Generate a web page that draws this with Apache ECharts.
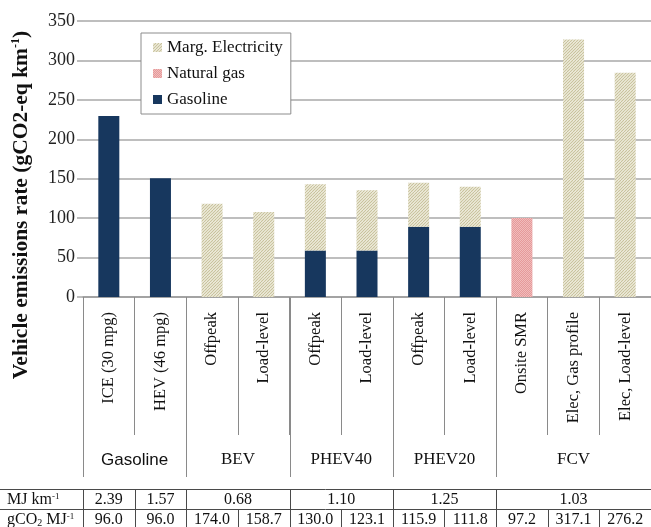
<!DOCTYPE html>
<html>
<head>
<meta charset="utf-8">
<script src="https://cdn.jsdelivr.net/npm/echarts@6/dist/echarts.min.js"></script>
<style>
  html, body { margin: 0; padding: 0; background: #fff; }
  #chart { width: 651px; height: 527px; }
</style>
</head>
<body>
<div id="chart"></div>
<script>
// Vehicle categories along the x axis
const categories = ['ICE (30 mpg)', 'HEV (46 mpg)', 'Offpeak', 'Load-level', 'Offpeak', 'Load-level',
  'Offpeak', 'Load-level', 'Onsite SMR', 'Elec, Gas profile', 'Elec, Load-level'];

// Vehicle groups and how many categories each spans
const groupNames = ['Gasoline', 'BEV', 'PHEV40', 'PHEV20', 'FCV'];
const groupSpans = [2, 2, 2, 2, 3];

// Emissions by fuel source (gCO2-eq per km)
const gasolineValues = [229.4, 150.7, null, null, 59, 59, 89, 89, null, null, null];
const naturalGasValues = [null, null, null, null, null, null, null, null, 100.1, null, null];
const electricityValues = [null, null, 118.3, 107.9, 84.0, 76.4, 55.9, 50.8, null, 326.6, 284.5];

// Y axis range
const yMin = 0, yMax = 350, yStep = 50;

// Table beneath the chart
const mjValues = ['2.39', '1.57', '0.68', '1.10', '1.25', '1.03'];
const mjSpans = [1, 1, 2, 2, 2, 3];
const gco2Values = ['96.0', '96.0', '174.0', '158.7', '130.0', '123.1', '115.9', '111.8', '97.2', '317.1', '276.2'];

const SERIF = 'Liberation Serif';
const SANS = 'Liberation Sans';

function hatchPattern() {
  const c = document.createElement('canvas');
  c.width = 6; c.height = 6;
  const g = c.getContext('2d');
  g.fillStyle = '#f4f2e6';
  g.fillRect(0, 0, 6, 6);
  g.strokeStyle = '#c7c19a';
  g.lineWidth = 1.1;
  for (let x = -6; x <= 6; x += 3) {
    g.beginPath();
    g.moveTo(x, 6);
    g.lineTo(x + 6, 0);
    g.stroke();
  }
  return c;
}

function dotPattern() {
  const c = document.createElement('canvas');
  c.width = 2; c.height = 2;
  const g = c.getContext('2d');
  g.fillStyle = '#e59a9a';
  g.fillRect(0, 0, 2, 2);
  g.fillStyle = '#f1bcbc';
  g.fillRect(0, 0, 1, 1);
  g.fillRect(1, 1, 1, 1);
  return c;
}

const chart = echarts.init(document.getElementById('chart'), null, { renderer: 'canvas' });

const option = {
  animation: false,
  backgroundColor: '#fff',
  textStyle: { fontFamily: SERIF },
  grid: { left: 83, right: 0, top: 21, bottom: 230 },
  legend: {
    data: ['Marg. Electricity', 'Natural gas', 'Gasoline'],
    orient: 'vertical',
    left: 141, top: 33,
    padding: [6, 8, 6, 12],
    icon: 'rect',
    itemWidth: 9, itemHeight: 9, itemGap: 9,
    backgroundColor: '#fff',
    borderColor: '#8c8c8c', borderWidth: 1,
    textStyle: { fontFamily: SERIF, fontSize: 17, color: '#111', lineHeight: 17 },
    selectedMode: false
  },
  xAxis: {
    type: 'category',
    data: categories,
    axisLine: { lineStyle: { color: '#9a9a9a', width: 1.5 } },
    axisTick: { show: true, interval: 0, length: 138, lineStyle: { color: '#8a8a8a', width: 1 } },
    axisLabel: { interval: 0, rotate: 90, margin: 15, fontFamily: SERIF, fontSize: 16.5, color: '#111' }
  },
  yAxis: {
    type: 'value',
    min: yMin, max: yMax, interval: yStep,
    axisLine: { show: false },
    axisTick: { show: true, length: 6, lineStyle: { color: '#a8a8a8', width: 1.5 } },
    splitLine: { lineStyle: { color: '#a8a8a8', width: 1.5 } },
    axisLabel: { margin: 8, fontFamily: SERIF, fontSize: 18, color: '#222' }
  },
  series: [
    {
      name: 'Gasoline', type: 'bar', stack: 'total', barWidth: 21,
      itemStyle: { color: '#17375e' },
      data: gasolineValues
    },
    {
      name: 'Natural gas', type: 'bar', stack: 'total', barWidth: 21,
      itemStyle: { color: { image: dotPattern(), repeat: 'repeat' } },
      data: naturalGasValues
    },
    {
      name: 'Marg. Electricity', type: 'bar', stack: 'total', barWidth: 21,
      itemStyle: { color: { image: hatchPattern(), repeat: 'repeat' } },
      data: electricityValues
    }
  ]
};
chart.setOption(option);

// Group dividers, group names, y-axis title and the data table, placed through the axis scale
function drawExtras() {
  const x0 = chart.convertToPixel({ xAxisIndex: 0 }, 0);
  const x1 = chart.convertToPixel({ xAxisIndex: 0 }, 1);
  const band = x1 - x0;
  const edge = i => x0 - band / 2 + i * band;   // left boundary of category i
  const axisY = chart.convertToPixel({ yAxisIndex: 0 }, yMin);

  const els = [];
  const lineStyle = { stroke: '#8a8a8a', lineWidth: 1 };

  // Longer dividers between groups and group titles
  let start = 0;
  groupNames.forEach((name, gi) => {
    const end = start + groupSpans[gi];
    els.push({ type: 'line', shape: { x1: Math.round(edge(start)) + 0.5, y1: axisY, x2: Math.round(edge(start)) + 0.5, y2: axisY + 180 }, style: lineStyle, silent: true });
    els.push({
      type: 'text', silent: true,
      style: {
        x: (edge(start) + edge(end)) / 2, y: axisY + 163,
        text: name, align: 'center', verticalAlign: 'middle',
        fontFamily: name === 'Gasoline' ? SANS : SERIF, fontSize: 17, fill: '#111'
      }
    });
    start = end;
  });

  // Y axis title
  els.push({
    type: 'text', silent: true,
    x: 21, y: 205, rotation: Math.PI / 2,
    style: {
      text: '{b|Vehicle emissions rate (gCO2-eq km}{sup|-1}{b|)}',
      align: 'center', verticalAlign: 'middle',
      rich: {
        b: { fontFamily: SERIF, fontSize: 21.5, fontWeight: 'bold', fill: '#111' },
        sup: { fontFamily: SERIF, fontSize: 12, fontWeight: 'bold', fill: '#111', verticalAlign: 'top' }
      }
    }
  });

  // Data table
  const tTop = 489, tMid = 509, tBot = 529;
  const tableLine = { stroke: '#4a4a4a', lineWidth: 1 };
  [tTop, tMid].forEach(y => {
    els.push({ type: 'line', shape: { x1: 0, y1: y + 0.5, x2: 651, y2: y + 0.5 }, style: tableLine, silent: true });
  });
  const cellText = (x, y, text) => ({
    type: 'text', silent: true,
    style: { x, y, text, align: 'center', verticalAlign: 'middle', fontFamily: SERIF, fontSize: 16, fill: '#111' }
  });

  // Row labels
  els.push({
    type: 'text', silent: true,
    style: {
      x: 7, y: (tTop + tMid) / 2 + 1, text: '{t|MJ km}{sup|-1}', verticalAlign: 'middle',
      rich: { t: { fontFamily: SERIF, fontSize: 16, fill: '#111' }, sup: { fontFamily: SERIF, fontSize: 9, fill: '#111', verticalAlign: 'top' } }
    }
  });
  els.push({
    type: 'text', silent: true,
    style: {
      x: 7, y: (tMid + tBot) / 2 + 1, text: '{t|gCO}{sub|2}{t| MJ}{sup|-1}', verticalAlign: 'middle',
      rich: {
        t: { fontFamily: SERIF, fontSize: 16, fill: '#111' },
        sub: { fontFamily: SERIF, fontSize: 10, fill: '#111', verticalAlign: 'bottom' },
        sup: { fontFamily: SERIF, fontSize: 9, fill: '#111', verticalAlign: 'top' }
      }
    }
  });

  // MJ per km row (merged cells per group)
  let c = 0;
  els.push({ type: 'line', shape: { x1: Math.round(edge(0)) + 0.5, y1: tTop, x2: Math.round(edge(0)) + 0.5, y2: tBot }, style: tableLine, silent: true });
  mjValues.forEach((v, i) => {
    const e = c + mjSpans[i];
    els.push(cellText((edge(c) + edge(e)) / 2, (tTop + tMid) / 2 + 1, v));
    els.push({ type: 'line', shape: { x1: Math.round(edge(e)) + 0.5, y1: tTop, x2: Math.round(edge(e)) + 0.5, y2: tMid }, style: tableLine, silent: true });
    c = e;
  });
  // gCO2 per MJ row
  gco2Values.forEach((v, i) => {
    els.push(cellText((edge(i) + edge(i + 1)) / 2, (tMid + tBot) / 2 + 1, v));
    els.push({ type: 'line', shape: { x1: Math.round(edge(i + 1)) + 0.5, y1: tMid, x2: Math.round(edge(i + 1)) + 0.5, y2: tBot }, style: tableLine, silent: true });
  });

  chart.setOption({ graphic: { elements: els } });
}
drawExtras();
</script>
</body>
</html>
